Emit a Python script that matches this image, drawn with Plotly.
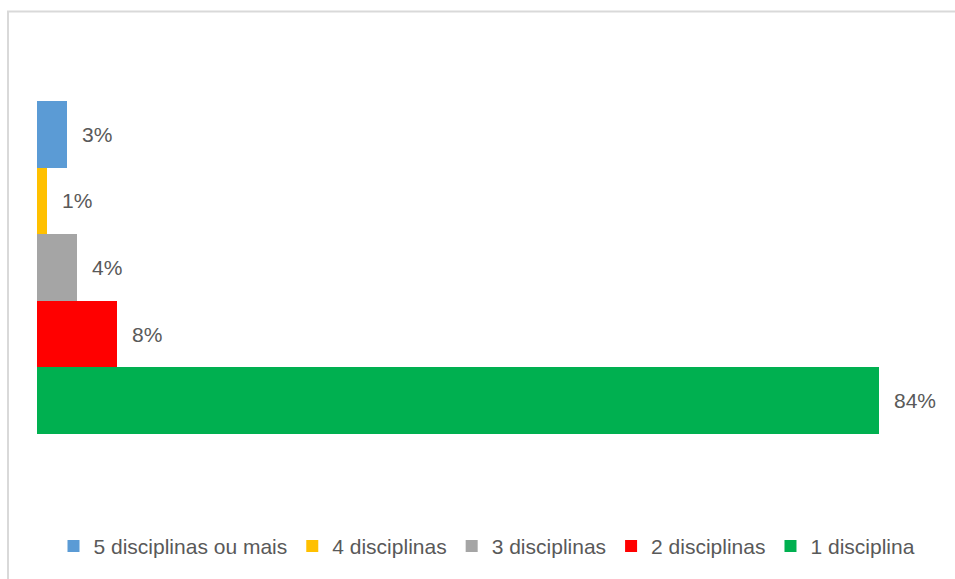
import plotly.graph_objects as go

categories = ["5 disciplinas ou mais", "4 disciplinas", "3 disciplinas", "2 disciplinas", "1 disciplina"]
values = [3, 1, 4, 8, 84]
labels = ["3%", "1%", "4%", "8%", "84%"]
colors = ["#5B9BD5", "#FFC000", "#A5A5A5", "#FF0000", "#00B050"]

W, H = 955, 579
L, R = 37, 939
T, B = 101, 436

fig = go.Figure()
for cat, v, c in zip(categories, values, colors):
    fig.add_trace(go.Bar(
        x=[v], y=[cat], orientation="h", name=cat,
        marker=dict(color=c, line=dict(width=0)),
        hoverinfo="x+name",
    ))

for cat, v, lab in zip(categories, values, labels):
    fig.add_annotation(x=v, y=cat, xref="x", yref="y", text=lab,
                       showarrow=False, xanchor="left", yanchor="middle",
                       xshift=13, font=dict(size=21, color="#595959"))

pw, ph = R - L, B - T
# chart border: only the left and top edges are visible in the frame
fig.add_shape(type="rect", xref="paper", yref="paper",
              x0=(8 - L) / pw, x1=(990 - L) / pw,
              y0=(B - 620) / ph, y1=(B - 11) / ph,
              line=dict(color="#D9D9D9", width=2), fillcolor="rgba(0,0,0,0)",
              layer="below")

fig.update_layout(
    width=W, height=H,
    margin=dict(l=L, r=W - R, t=T, b=H - B, pad=0),
    paper_bgcolor="white", plot_bgcolor="white",
    barmode="overlay", bargap=0,
    font=dict(family="Liberation Sans, Arial, sans-serif", size=21, color="#595959"),
    xaxis=dict(range=[0, 90], visible=False, fixedrange=True),
    yaxis=dict(categoryorder="array", categoryarray=categories[::-1],
               range=[-0.5, 4.5], visible=False, fixedrange=True),
    legend=dict(orientation="h", x=(487 - L) / pw, xanchor="center",
                y=(B - 549) / ph, yanchor="middle",
                font=dict(size=21, color="#595959"),
                itemwidth=30, traceorder="normal"),
    showlegend=True,
)

fig.write_html("out.html", config={"displayModeBar": False},
               post_script="document.body.style.margin='0';document.body.style.overflow='hidden';")
